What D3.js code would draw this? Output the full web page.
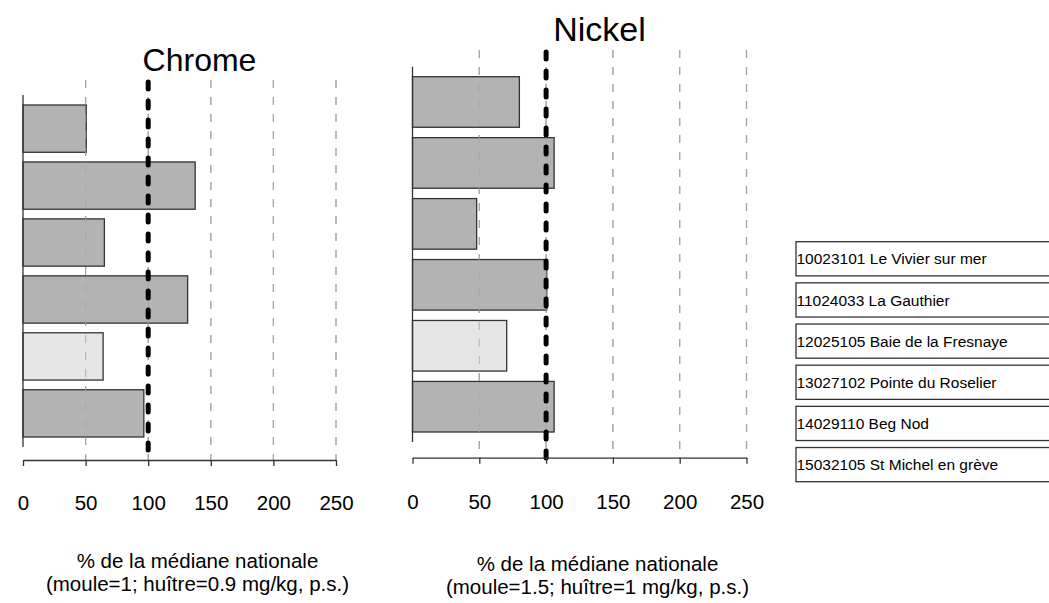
<!DOCTYPE html>
<html lang="fr">
<head>
<meta charset="UTF-8">
<title>Chrome / Nickel</title>
<script src="https://d3js.org/d3.v7.min.js"></script>
<style>
    body { margin: 0; background: #ffffff; }
    svg { display: block; font-family: "Liberation Sans", Arial, sans-serif; }
</style>
</head>
<body>
<div id="my_dataviz"></div>

<script>

//data
var stations = [
    "10023101 Le Vivier sur mer",
    "11024033 La Gauthier",
    "12025105 Baie de la Fresnaye",
    "13027102 Pointe du Roselier",
    "14029110 Beg Nod",
    "15032105 St Michel en grève"
];
var species = ["moule", "moule", "moule", "moule", "huître", "moule"];
var chrome = [50.5, 137.5, 65, 131.5, 64, 96.5];
var nickel = [80, 106, 48, 100.5, 70.5, 106];
var ticks = [0, 50, 100, 150, 200, 250];
var medianLine = 100;
var chromeLabel = ["% de la médiane nationale", "(moule=1; huître=0.9 mg/kg, p.s.)"];
var nickelLabel = ["% de la médiane nationale", "(moule=1.5; huître=1 mg/kg, p.s.)"];

var svg = d3.select("#my_dataviz")
    .append("svg")
        .attr("width", 1049)
        .attr("height", 603)
        .style("background-color", "white");

function fillFor(s) {
    return s == "huître" ? "#e6e6e6" : "#b3b3b3";
}

//one panel = title, grid, bars, median line, x axis
function drawPanel(p) {
    var x = d3.scaleLinear()
        .domain([0, 250])
        .range([p.x0, p.x1]);

    var y = d3.scaleBand()
        .domain(stations)
        .range([p.barTop, p.barBottom])
        .paddingInner(0.17)
        .paddingOuter(0);

    //title
    svg.append("text")
        .attr("x", (p.x0 + p.x1) / 2 + 20)
        .attr("y", p.titleY)
        .attr("text-anchor", "middle")
        .style("font-size", p.titleSize + "px")
        .text(p.title);

    //dashed grid
    svg.selectAll(null)
        .data(ticks.slice(1))
        .enter()
        .append("line")
            .attr("x1", function(d) { return x(d); })
            .attr("x2", function(d) { return x(d); })
            .attr("y1", p.gridTop)
            .attr("y2", p.axisY)
            .attr("stroke", "#a6a6a6")
            .attr("stroke-width", 1.2)
            .attr("stroke-dasharray", "8,9");

    //bars
    svg.selectAll(null)
        .data(stations)
        .enter()
        .append("rect")
            .attr("x", x(0))
            .attr("y", function(d) { return y(d); })
            .attr("width", function(d, i) { return x(p.values[i]) - x(0); })
            .attr("height", y.bandwidth())
            .attr("fill", function(d, i) { return fillFor(species[i]); })
            .attr("stroke", "#333")
            .attr("stroke-width", 1.3);

    //redraw grid over the bars (R draws it after)
    svg.selectAll(null)
        .data(ticks.slice(1))
        .enter()
        .append("line")
            .attr("x1", function(d) { return x(d); })
            .attr("x2", function(d) { return x(d); })
            .attr("y1", p.gridTop)
            .attr("y2", p.axisY)
            .attr("stroke", "#a6a6a6")
            .attr("stroke-opacity", 0.7)
            .attr("stroke-width", 1.2)
            .attr("stroke-dasharray", "8,9");

    //vertical axis line
    svg.append("line")
        .attr("x1", x(0))
        .attr("x2", x(0))
        .attr("y1", p.barTop - 10)
        .attr("y2", p.barBottom + 10)
        .attr("stroke", "#333")
        .attr("stroke-width", 1.3);

    //median (100%)
    svg.append("line")
        .attr("x1", x(medianLine))
        .attr("x2", x(medianLine))
        .attr("y1", p.gridTop + 2)
        .attr("y2", p.axisY + 2)
        .attr("stroke", "black")
        .attr("stroke-width", 5)
        .attr("stroke-linecap", "round")
        .attr("stroke-dasharray", "7,12");

    //x axis
    var ax = svg.append("g")
        .attr("transform", "translate(0," + p.axisY + ")")
        .call(d3.axisBottom(x)
            .tickValues(ticks)
            .tickSize(6)
            .tickSizeOuter(0)
            .tickPadding(p.tickPad));
    ax.select(".domain").attr("stroke", "#333").attr("stroke-width", 1.3);
    ax.selectAll(".tick line").attr("stroke", "#333").attr("stroke-width", 1.3);
    ax.selectAll("text")
        .style("font-family", "'Liberation Sans', Arial, sans-serif")
        .style("font-size", "20.5px")
        .attr("fill", "black");

    //axis title, two lines
    var cx = (p.x0 + p.x1) / 2 + 18;
    svg.append("g")
        .selectAll("text")
        .data(p.label)
        .enter()
        .append("text")
            .attr("x", cx)
            .attr("y", function(d, i) { return p.labelY + i * 23; })
            .attr("text-anchor", "middle")
            .style("font-size", "20.5px")
            .text(function(d) { return d; });
}

drawPanel({
    title: "Chrome", titleY: 71, titleSize: 32,
    values: chrome, label: chromeLabel,
    x0: 23, x1: 336,
    barTop: 105, barBottom: 437,
    gridTop: 80, axisY: 460, tickPad: 29, labelY: 568
});

drawPanel({
    title: "Nickel", titleY: 40.5, titleSize: 34,
    values: nickel, label: nickelLabel,
    x0: 412.5, x1: 746.5,
    barTop: 76.7, barBottom: 432,
    gridTop: 50, axisY: 457.7, tickPad: 31, labelY: 571
});

//legend boxes on the right
var ly = d3.scaleBand()
    .domain(stations)
    .range([241.7, 481.7])
    .paddingInner(0.17)
    .paddingOuter(0);

var leg = svg.selectAll(".leg")
    .data(stations)
    .enter()
    .append("g")
        .attr("class", "leg");

leg.append("rect")
    .attr("x", 796)
    .attr("y", function(d) { return ly(d); })
    .attr("width", 260)
    .attr("height", ly.bandwidth())
    .attr("fill", "white")
    .attr("stroke", "#333")
    .attr("stroke-width", 1.3);

leg.append("text")
    .attr("x", 796.5)
    .attr("y", function(d) { return ly(d) + ly.bandwidth() / 2; })
    .attr("dy", "0.36em")
    .style("font-size", "15.5px")
    .text(function(d) { return d; });

</script>
</body>
</html>
